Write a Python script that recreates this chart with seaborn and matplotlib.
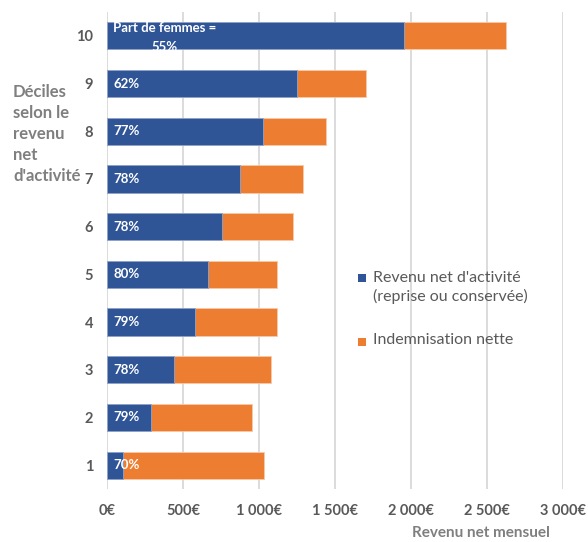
import matplotlib
matplotlib.use("Agg")
import matplotlib.pyplot as plt
import seaborn as sns
import pandas as pd
from matplotlib.patches import Rectangle

deciles = ["10", "9", "8", "7", "6", "5", "4", "3", "2", "1"]
revenu_activite = [1955, 1250, 1026, 875, 757, 664, 579, 441, 289, 105]
indemnisation = [670, 454, 415, 414, 467, 454, 539, 638, 665, 928]
part_femmes = ["Part de femmes =\n55%", "62%", "77%", "78%", "78%", "80%", "79%", "78%", "79%", "70%"]
xticks = [0, 500, 1000, 1500, 2000, 2500, 3000]
xtick_labels = ["0€", "500€", "1 000€", "1 500€", "2 000€", "2 500€", "3 000€"]
legend_labels = ["Revenu net d'activité\n(reprise ou conservée)", "Indemnisation nette"]

BLUE = "#2F5597"
ORANGE = "#ED7D31"
DARK = "#595959"
GREY = "#7F7F7F"

sns.set_theme(style="white")
plt.rcParams["font.family"] = ["Lato", "DejaVu Sans"]

df = pd.DataFrame({
    "decile": deciles,
    "activite": revenu_activite,
    "indem": indemnisation,
})
df["total"] = df["activite"] + df["indem"]

fig = plt.figure(figsize=(5.88, 5.42), dpi=100)
ax = fig.add_axes([107 / 588, 1 - 489 / 542, (563 - 107) / 588, (489 - 12) / 542])

sns.barplot(data=df, x="total", y="decile", order=deciles, color=ORANGE,
            saturation=1, width=0.57, errorbar=None, ax=ax, orient="h",
            edgecolor="#F8C9A8", linewidth=0.6)
sns.barplot(data=df, x="activite", y="decile", order=deciles, color=BLUE,
            saturation=1, width=0.57, errorbar=None, ax=ax, orient="h",
            edgecolor="#8FA6CF", linewidth=0.6)

ax.set_xlim(0, 3000)
ax.set_ylim(len(deciles) - 0.5, -0.5)
ax.set_xticks(xticks)
ax.set_xticklabels(xtick_labels)
ax.grid(axis="x", color="#D9D9D9", linewidth=1.3)
ax.set_axisbelow(True)
for s in ax.spines.values():
    s.set_visible(False)
ax.tick_params(axis="both", length=0, labelcolor=DARK, labelsize=10.5)
ax.tick_params(axis="y", pad=10)
ax.tick_params(axis="x", pad=11)
for lab in ax.get_xticklabels() + ax.get_yticklabels():
    lab.set_fontweight("bold")
ax.set_xlabel("")
ax.set_ylabel("")

# percentage labels
for i, txt in enumerate(part_femmes):
    if "\n" in txt:
        ax.text(40, i - 0.30, txt, color="white", fontsize=9.5, fontweight="bold",
                ha="left", va="top", multialignment="center", linespacing=1.75)
    else:
        ax.text(40, i, txt, color="white", fontsize=9.5, fontweight="bold",
                ha="left", va="center")

# axis titles
fig.text(481 / 588, 1 - 533 / 542, "Revenu net mensuel", color=GREY, fontsize=11,
         fontweight="bold", ha="center", va="center")
fig.text(13 / 588, 1 - 134 / 542, "Déciles\nselon le\nrevenu\nnet\nd'activité",
         color=GREY, fontsize=12, fontweight="bold", ha="left", va="center",
         linespacing=1.38)

# legend
colors = [BLUE, ORANGE]
square_y = [277.5, 342]
text_top = [271, 333]
for lab, c, y, t in zip(legend_labels, colors, square_y, text_top):
    fig.patches.append(Rectangle((358 / 588, 1 - (y + 4) / 542), 8 / 588, 8 / 542,
                                 transform=fig.transFigure, facecolor=c,
                                 edgecolor="none", figure=fig))
    fig.text(373 / 588, 1 - t / 542, lab, color=DARK, fontsize=11.5,
             ha="left", va="top", linespacing=1.35)

fig.savefig("out.png", dpi=100)
